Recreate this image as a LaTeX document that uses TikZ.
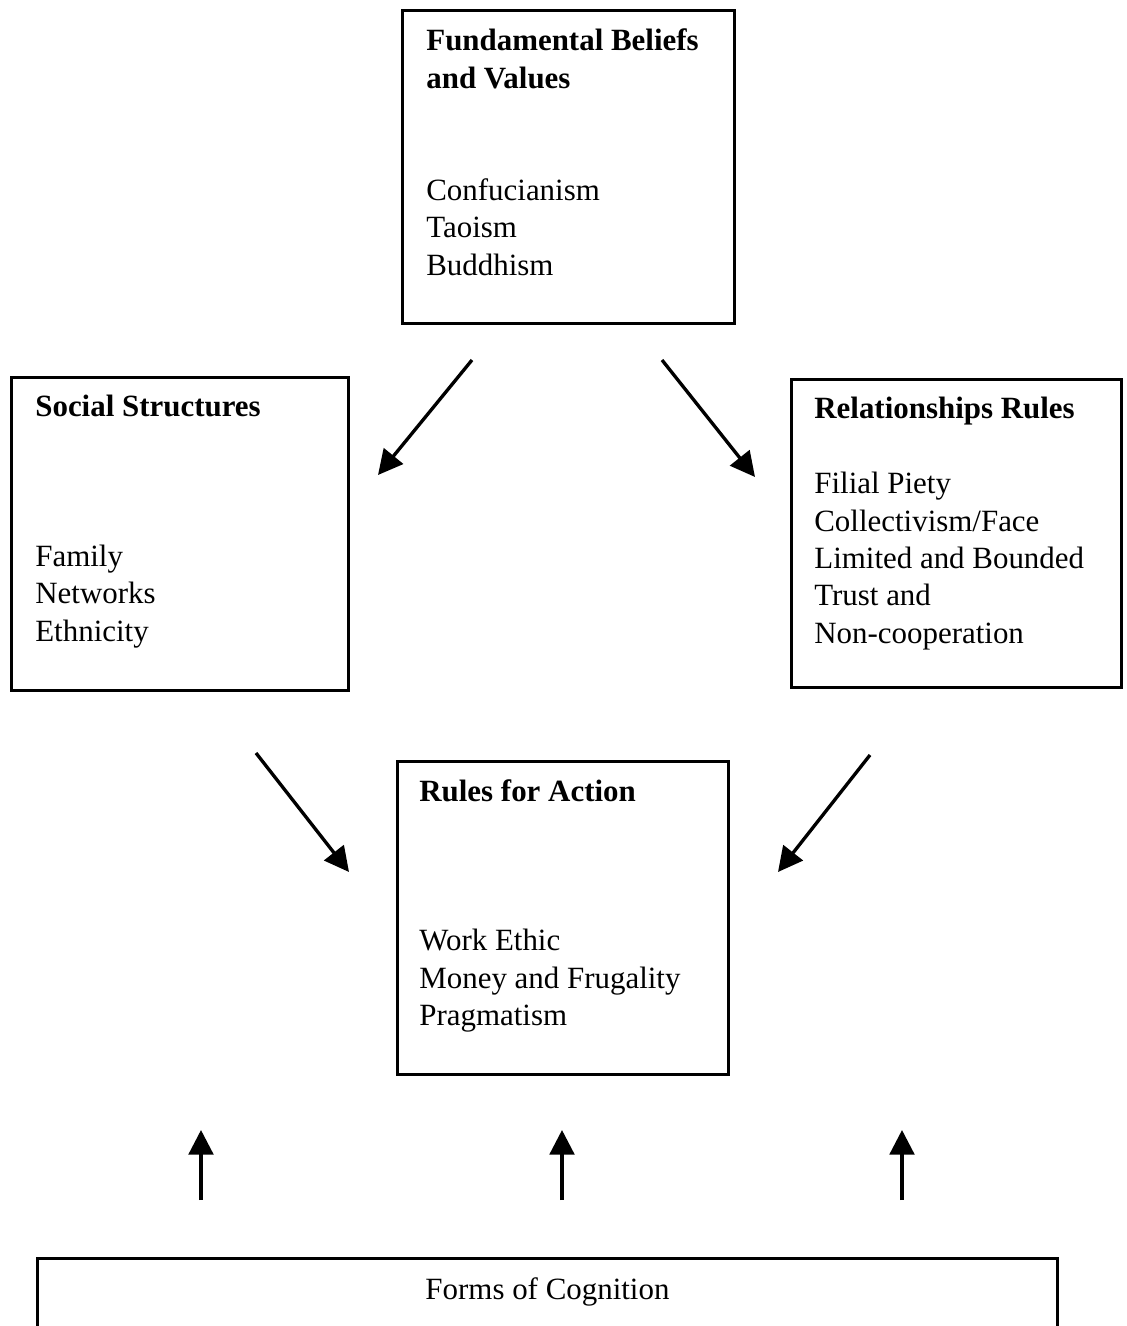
\documentclass[tikz,border=0pt]{standalone}
\usepackage{fontspec}
\setmainfont{Liberation Serif}
\usetikzlibrary{positioning,arrows.meta}

\tikzset{
  box/.style={draw, line width=1.7pt, inner sep=0pt, anchor=north west},
  boxtext/.style={align=left, inner sep=0pt, anchor=north west,
    font=\fontsize{17.6}{21.3}\selectfont},
  flow/.style={-{Triangle[length=14pt, width=14pt]}, line width=1.9pt}
}

\begin{document}
\begin{tikzpicture}[>=stealth]
\useasboundingbox (0,0) rectangle (22.54,-26.52);
\clip (0,0) rectangle (22.54,-26.52);

% boxes
\node[box, minimum width=6.64cm, minimum height=6.26cm] (beliefs) at (8.02,-0.18) {};
\node[box, minimum width=6.74cm, minimum height=6.26cm] (social) at (0.20,-7.52) {};
\node[box, minimum width=6.60cm, minimum height=6.16cm] (relations) at (15.80,-7.56) {};
\node[box, minimum width=6.62cm, minimum height=6.26cm] (action) at (7.92,-15.20) {};
\node[box, minimum width=20.40cm, minimum height=3cm] (cognition) at (0.72,-25.14) {};

% box texts
\node[boxtext, below right=0.39cm and 0.50cm of beliefs.north west]
  {\textbf{Fundamental Beliefs}\\\textbf{and Values}\\[2\baselineskip]
   Confucianism\\Taoism\\Buddhism};
\node[boxtext, below right=0.38cm and 0.50cm of social.north west]
  {\textbf{Social Structures}\\[3\baselineskip]
   Family\\Networks\\Ethnicity};
\node[boxtext, below right=0.38cm and 0.48cm of relations.north west]
  {\textbf{Relationships Rules}\\[\baselineskip]
   Filial Piety\\Collectivism/Face\\Limited and Bounded\\Trust and\\Non-cooperation};
\node[boxtext, below right=0.38cm and 0.46cm of action.north west]
  {\textbf{Rules for Action}\\[3\baselineskip]
   Work Ethic\\Money and Frugality\\Pragmatism};
\node[boxtext, anchor=north, below=0.40cm of cognition.north] {Forms of Cognition};

% arrow ends
\coordinate (b1) at (9.44,-7.20);
\coordinate (b2) at (7.56,-9.50);
\coordinate (b3) at (13.24,-7.20);
\coordinate (b4) at (15.10,-9.54);
\coordinate (s1) at (5.12,-15.06);
\coordinate (s2) at (6.98,-17.44);
\coordinate (r1) at (17.40,-15.10);
\coordinate (r2) at (15.56,-17.44);
\coordinate (c1) at (4.02,-24.00);
\coordinate (c2) at (4.02,-22.60);
\coordinate (c3) at (11.24,-24.00);
\coordinate (c4) at (11.24,-22.60);
\coordinate (c5) at (18.04,-24.00);
\coordinate (c6) at (18.04,-22.60);

% arrows
\draw[flow] (b1) -- (b2);
\draw[flow] (b3) -- (b4);
\draw[flow] (s1) -- (s2);
\draw[flow] (r1) -- (r2);
\draw[flow] (c1) -- (c2);
\draw[flow] (c3) -- (c4);
\draw[flow] (c5) -- (c6);

\end{tikzpicture}
\end{document}
